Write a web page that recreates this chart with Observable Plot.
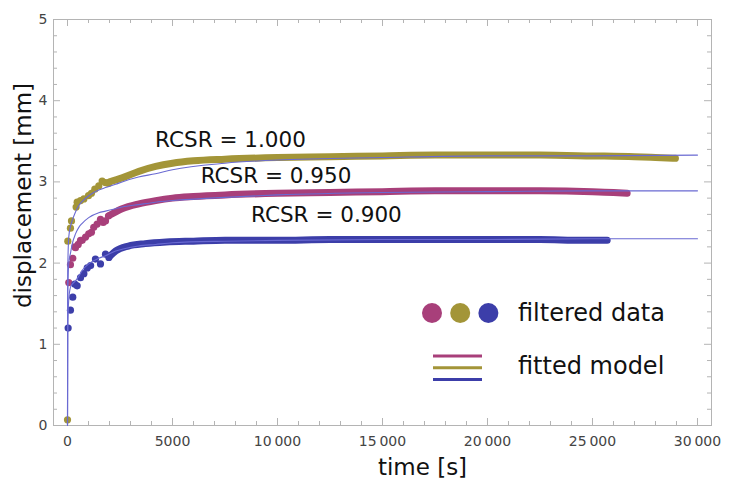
<!DOCTYPE html>
<html>
<head>
<meta charset="utf-8">
<script src="https://cdn.jsdelivr.net/npm/d3@7"></script>
<script src="https://cdn.jsdelivr.net/npm/@observablehq/plot@0.6"></script>
<style>
  body { margin: 0; background: #fff; }
  #wrap { position: relative; width: 739px; height: 491px; }
  #legend { position: absolute; left: 0; top: 0; pointer-events: none; }
</style>
</head>
<body>
<div id="wrap"></div>
<script>
// ---- data ----
const seriesNames = ["RCSR = 1.000", "RCSR = 0.950", "RCSR = 0.900"];
const seriesColors = ["#a39538", "#a83f7a", "#3c3ea9"];
const fitColor = "#6a6ad2";

// early scattered points
const goldEarlyT = [0, 15, 140, 190, 410, 460, 620, 780, 1000, 1140, 1300, 1490, 1650, 1810, 1950];
const goldEarlyV = [0.07, 2.27, 2.43, 2.52, 2.69, 2.75, 2.77, 2.79, 2.83, 2.86, 2.91, 2.95, 3.01, 2.99, 2.98];
const magEarlyT = [60, 140, 250, 350, 380, 510, 620, 700, 860, 1010, 1140, 1250, 1410, 1570, 1700, 1810, 1950];
const magEarlyV = [1.76, 1.98, 2.06, 2.20, 2.19, 2.23, 2.28, 2.28, 2.32, 2.36, 2.38, 2.44, 2.48, 2.54, 2.50, 2.52, 2.58];
const blueEarlyT = [30, 140, 250, 350, 460, 620, 780, 940, 1100, 1330, 1570, 1810, 1970];
const blueEarlyV = [1.20, 1.42, 1.58, 1.74, 1.72, 1.82, 1.87, 1.94, 1.97, 2.05, 1.99, 2.11, 2.07];

// dense filtered data (drawn as a thick band)
const goldBandT = [2000, 2600, 3400, 4200, 5000, 6000, 7500, 10000, 12500, 15000, 17500, 20000, 22500, 25000, 27000, 28000, 28950];
const goldBandV = [3.00, 3.05, 3.13, 3.19, 3.23, 3.26, 3.28, 3.30, 3.31, 3.32, 3.33, 3.33, 3.33, 3.32, 3.31, 3.30, 3.29];
const magBandT = [2000, 2600, 3400, 4200, 5000, 6000, 7500, 10000, 12500, 15000, 17500, 20000, 22500, 25000, 26000, 26650];
const magBandV = [2.59, 2.67, 2.73, 2.77, 2.80, 2.82, 2.84, 2.86, 2.87, 2.88, 2.89, 2.89, 2.89, 2.88, 2.87, 2.86];
const blueBandT = [2000, 2300, 2900, 3700, 4700, 6000, 7500, 10000, 12500, 15000, 17500, 20000, 22500, 24500, 25700];
const blueBandV = [2.08, 2.15, 2.21, 2.24, 2.26, 2.27, 2.28, 2.28, 2.29, 2.29, 2.29, 2.29, 2.29, 2.28, 2.28];

// fitted model curves
const fitT = [0, 10, 60, 140, 220, 380, 540, 700, 1010, 1490, 1810, 2290, 2600, 3380, 4190, 5000, 7500, 10000, 15000, 20000, 25000, 30000];
const goldFit = [0, 1.9, 2.32, 2.45, 2.52, 2.63, 2.71, 2.76, 2.83, 2.90, 2.93, 2.97, 3.00, 3.06, 3.10, 3.15, 3.23, 3.27, 3.30, 3.32, 3.32, 3.33];
const magFit = [0, 1.6, 2.0, 2.12, 2.23, 2.36, 2.44, 2.49, 2.56, 2.62, 2.64, 2.67, 2.69, 2.72, 2.75, 2.77, 2.81, 2.84, 2.87, 2.88, 2.89, 2.89];
const blueFit = [0, 1.2, 1.55, 1.70, 1.74, 1.78, 1.84, 1.91, 1.99, 2.06, 2.09, 2.15, 2.17, 2.21, 2.23, 2.25, 2.27, 2.28, 2.29, 2.29, 2.30, 2.30];

// annotation anchor positions (data coordinates)
const labelT = [7760, 9930, 12330];
const labelV = [3.52, 3.075, 2.595];

// ticks
const xMajor = [0, 5000, 10000, 15000, 20000, 25000, 30000];
const xMinor = d3.range(0, 30001, 1000).filter(v => v % 5000 !== 0);
const yMajor = [0, 1, 2, 3, 4, 5];
const yMinor = d3.range(0, 50).map(i => i / 10).filter((v, i) => i % 2 === 0 && i % 10 !== 0);

const legendLabels = ["filtered data", "fitted model"];

// ---- build tables ----
const zipS = (T, V, s) => T.map((t, i) => ({t, v: V[i], s}));
const early = [
  ...zipS(goldEarlyT, goldEarlyV, 0),
  ...zipS(magEarlyT, magEarlyV, 1),
  ...zipS(blueEarlyT, blueEarlyV, 2)
];
const band = [
  ...zipS(goldBandT, goldBandV, 0),
  ...zipS(magBandT, magBandV, 1),
  ...zipS(blueBandT, blueBandV, 2)
];
const fits = [
  ...zipS(fitT, goldFit, 0),
  ...zipS(fitT, magFit, 1),
  ...zipS(fitT, blueFit, 2)
];
const labels = seriesNames.map((n, i) => ({t: labelT[i], v: labelV[i], n}));

const W = 739, H = 491;
const mL = 53, mR = 28, mT = 19, mB = 66;
const iW = W - mL - mR, iH = H - mT - mB;

const fmt = v => v >= 10000 ? d3.format(",")(v).replace(/,/g, "\u2009") : String(v);
const col = d => seriesColors[d.s];
const frameCol = "#b4b4b4";

const chart = Plot.plot({
  width: W, height: H,
  marginLeft: mL, marginRight: mR, marginTop: mT, marginBottom: mB,
  style: {fontFamily: "DejaVu Sans", background: "#fff"},
  x: {domain: [-667, 30667]},
  y: {domain: [0, 5]},
  marks: [
    Plot.frame({stroke: frameCol}),
    // ticks on all four sides, pointing inward
    Plot.tickX(xMajor, {x: d => d, stroke: frameCol, insetTop: iH - 7}),
    Plot.tickX(xMinor, {x: d => d, stroke: frameCol, insetTop: iH - 4}),
    Plot.tickX(xMajor, {x: d => d, stroke: frameCol, insetBottom: iH - 7}),
    Plot.tickX(xMinor, {x: d => d, stroke: frameCol, insetBottom: iH - 4}),
    Plot.tickY(yMajor, {y: d => d, stroke: frameCol, insetRight: iW - 7}),
    Plot.tickY(yMinor, {y: d => d, stroke: frameCol, insetRight: iW - 4}),
    Plot.tickY(yMajor, {y: d => d, stroke: frameCol, insetLeft: iW - 7}),
    Plot.tickY(yMinor, {y: d => d, stroke: frameCol, insetLeft: iW - 4}),
    Plot.axisX({ticks: xMajor, tickSize: 0, tickPadding: 11, tickFormat: fmt, fontSize: 14, fill: "#444", label: null}),
    Plot.axisY({ticks: yMajor, tickSize: 0, tickPadding: 6, tickFormat: d => String(d), fontSize: 14, fill: "#444", label: null}),
    // data
    Plot.line(band, {x: "t", y: "v", z: "s", stroke: col, strokeWidth: 7, strokeLinecap: "round", curve: "monotone-x"}),
    Plot.dot(early, {x: "t", y: "v", r: 3.6, fill: col, stroke: "none"}),
    // fitted model
    Plot.line(fits, {x: "t", y: "v", z: "s", stroke: fitColor, strokeWidth: 1.1, curve: "monotone-x"}),
    // annotations
    Plot.text(labels, {x: "t", y: "v", text: "n", fontSize: 21.5, fill: "#111", fontFamily: "DejaVu Sans"}),
    // axis titles
    Plot.text(["time [s]"], {frameAnchor: "bottom", dx: 40, dy: 42, lineAnchor: "middle", textAnchor: "middle", text: d => d, fontSize: 23, fill: "#111"}),
    Plot.text(["displacement [mm]"], {frameAnchor: "left", dx: -30, dy: -27, rotate: -90, lineAnchor: "middle", textAnchor: "middle", text: d => d, fontSize: 23, fill: "#111"})
  ]
});

const wrap = document.getElementById("wrap");
wrap.appendChild(chart);

// ---- legend overlay ----
const ns = "http://www.w3.org/2000/svg";
const leg = document.createElementNS(ns, "svg");
leg.setAttribute("id", "legend");
leg.setAttribute("width", W);
leg.setAttribute("height", H);
const legOrder = [1, 0, 2];
legOrder.forEach((s, i) => {
  const c = document.createElementNS(ns, "circle");
  c.setAttribute("cx", 432 + i * 28.2);
  c.setAttribute("cy", 313);
  c.setAttribute("r", 10);
  c.setAttribute("fill", seriesColors[s]);
  leg.appendChild(c);
  const l = document.createElementNS(ns, "line");
  l.setAttribute("x1", 433); l.setAttribute("x2", 482);
  l.setAttribute("y1", 356 + i * 11.7); l.setAttribute("y2", 356 + i * 11.7);
  l.setAttribute("stroke", seriesColors[s]);
  l.setAttribute("stroke-width", 3);
  leg.appendChild(l);
});
legendLabels.forEach((txt, i) => {
  const t = document.createElementNS(ns, "text");
  t.setAttribute("x", 518);
  t.setAttribute("y", i === 0 ? 313 : 366);
  t.setAttribute("dominant-baseline", "central");
  t.setAttribute("font-family", "DejaVu Sans");
  t.setAttribute("font-size", 24);
  t.setAttribute("fill", "#111");
  t.textContent = txt;
  leg.appendChild(t);
});
wrap.appendChild(leg);
</script>
</body>
</html>
